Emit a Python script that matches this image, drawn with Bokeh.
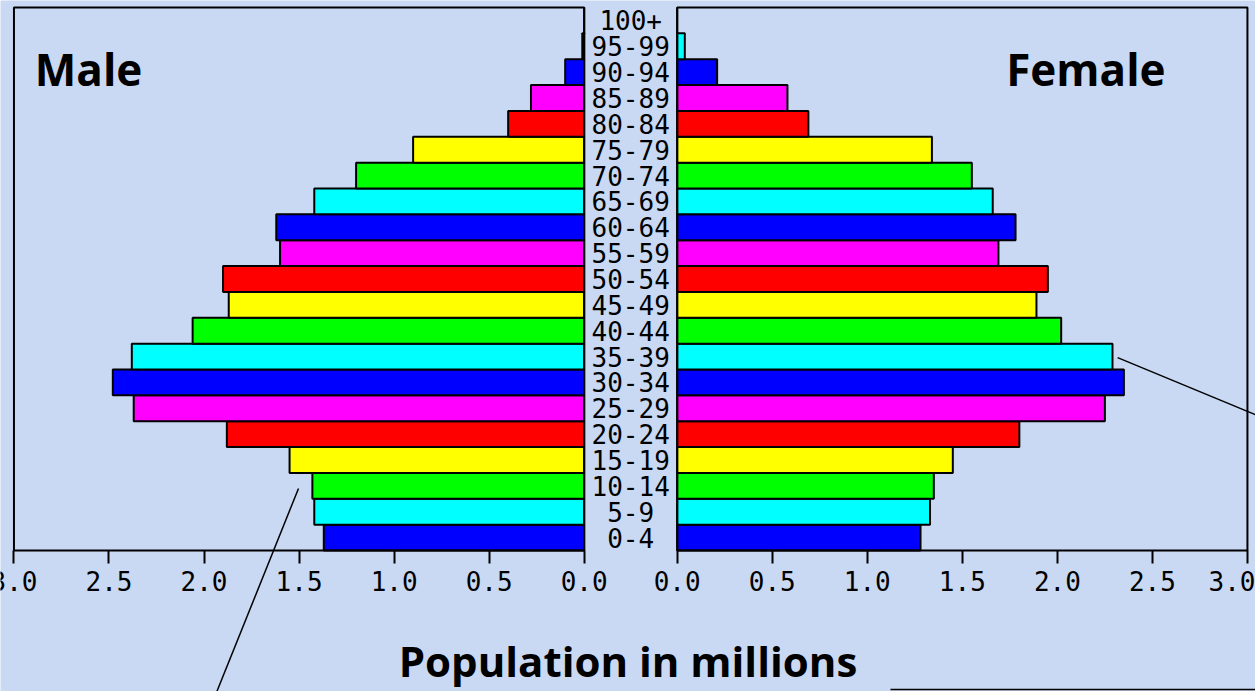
from bokeh.plotting import figure
from bokeh.models import Range1d, FixedTicker, ColumnDataSource
from bokeh.core.properties import value
from bokeh.embed import file_html
from bokeh.resources import INLINE

# ---- data (bottom to top) ----
ages = ["0-4", "5-9", "10-14", "15-19", "20-24", "25-29", "30-34", "35-39",
        "40-44", "45-49", "50-54", "55-59", "60-64", "65-69", "70-74",
        "75-79", "80-84", "85-89", "90-94", "95-99", "100+"]
male = [1.37, 1.42, 1.43, 1.55, 1.88, 2.37, 2.48, 2.38, 2.06, 1.87, 1.90,
        1.60, 1.62, 1.42, 1.20, 0.90, 0.40, 0.28, 0.10, 0.01, 0.0]
female = [1.28, 1.33, 1.35, 1.45, 1.80, 2.25, 2.35, 2.29, 2.02, 1.89, 1.95,
          1.69, 1.78, 1.66, 1.55, 1.34, 0.69, 0.58, 0.21, 0.04, 0.0]
tick_values = [0.0, 0.5, 1.0, 1.5, 2.0, 2.5, 3.0]
tick_labels = ["0.0", "0.5", "1.0", "1.5", "2.0", "2.5", "3.0"]
axis_max = 3.0

# ---- styles ----
palette = ["#0000ff", "#00ffff", "#00ff00", "#ffff00", "#ff0000", "#ff00ff"]
BG = "#c9d9f3"
HALF_GAP = 0.2447          # half of the gap between panels, in millions
SANS = "Open Sans"
MONO = "DejaVu Sans Mono"

n = len(ages)
colors = [palette[i % len(palette)] for i in range(n)]
src = ColumnDataSource(dict(
    y=[i + 0.5 for i in range(n)],
    age=ages,
    m_left=[-HALF_GAP - v for v in male],
    m_right=[-HALF_GAP] * n,
    f_left=[HALF_GAP] * n,
    f_right=[HALF_GAP + v for v in female],
    color=colors,
    zero=[0.0] * n,
))

p = figure(width=1255, height=691,
           x_range=Range1d(-HALF_GAP - axis_max - 0.0708, HALF_GAP + axis_max + 0.0424),
           y_range=Range1d(-5.453, n + 0.271),
           output_backend="svg", toolbar_location=None,
           y_axis_location=None)
p.min_border = 0
p.min_border_left = 0
p.min_border_right = 0
p.min_border_top = 0
p.min_border_bottom = 0
p.background_fill_color = BG
p.border_fill_color = BG
p.outline_line_color = None
p.xgrid.visible = False
p.ygrid.visible = False

# bars
p.hbar(y="y", left="m_left", right="m_right", height=1.0, fill_color="color",
       line_color="black", line_width=2, source=src)
p.hbar(y="y", left="f_left", right="f_right", height=1.0, fill_color="color",
       line_color="black", line_width=2, source=src)

# panel frames
p.quad(left=[-HALF_GAP - axis_max, HALF_GAP], right=[-HALF_GAP, HALF_GAP + axis_max],
       bottom=[0, 0], top=[n, n], fill_color=None, line_color="black", line_width=2)

# age labels in the middle
p.text(x="zero", y="y", text="age", source=src, text_align="center",
       text_baseline="middle", text_font=value(MONO), text_font_size="26px",
       text_color="black")

# panel titles
p.text(x=[-HALF_GAP - axis_max + 0.11], y=[n - 2.36], text=["Male"],
       text_align="left", text_baseline="middle", text_font=value(SANS),
       text_font_size="44px", text_font_style="bold", text_color="black")
p.text(x=[HALF_GAP + 2.15], y=[n - 2.36], text=["Female"],
       text_align="center", text_baseline="middle", text_font=value(SANS),
       text_font_size="44px", text_font_style="bold", text_color="black")

# callout lines
for xs, ys in [([-HALF_GAP - 1.503, -HALF_GAP - 1.935], [2.4, -5.5]),
               ([HALF_GAP + 2.317, HALF_GAP + 3.06], [7.46, 5.2]),
               ([HALF_GAP + 1.122, HALF_GAP + 3.06], [-5.376, -5.376])]:
    p.line(x=xs, y=ys, line_color="black", line_width=1.5)

# x axis with mirrored ticks, fixed at the bars' base
tick_pos = []
overrides = {}
for v, lab in zip(tick_values, tick_labels):
    for pos in (round(-HALF_GAP - v, 4), round(HALF_GAP + v, 4)):
        tick_pos.append(pos)
        overrides[pos] = lab
ax = p.xaxis[0]
ax.fixed_location = 0
ax.ticker = FixedTicker(ticks=tick_pos)
ax.major_label_overrides = overrides
ax.axis_line_color = None
ax.major_tick_in = 0
ax.major_tick_out = 13
ax.major_tick_line_width = 2
ax.major_tick_line_color = "black"
ax.minor_tick_line_color = None
ax.major_label_standoff = 7
ax.major_label_text_font = MONO
ax.major_label_text_font_size = "26px"
ax.major_label_text_color = "black"
ax.axis_label = "Population in millions"
ax.axis_label_text_font = SANS
ax.axis_label_text_font_size = "42px"
ax.axis_label_text_font_style = "bold"
ax.axis_label_text_color = "black"
ax.axis_label_standoff = 38

html = file_html(p, INLINE)
html = html.replace("<body>", '<body style="background:%s">' % BG, 1)
open("out.html", "w").write(html)
